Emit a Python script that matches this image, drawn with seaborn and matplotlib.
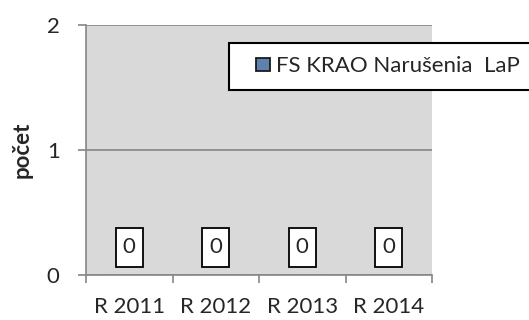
import matplotlib
matplotlib.use("Agg")
import matplotlib.pyplot as plt
import seaborn as sns
import pandas as pd
from matplotlib.ticker import FixedLocator
from matplotlib.path import Path
from matplotlib.patches import Rectangle
from matplotlib.legend_handler import HandlerPatch

categories = ["R 2011", "R 2012", "R 2013", "R 2014"]
values = [0, 0, 0, 0]
series_name = "FS KRAO Narušenia  LaP"
y_ticks = [0, 1, 2]

df = pd.DataFrame({"rok": categories, "pocet": values, "seria": series_name})

sns.set_theme(style="white")
plt.rcParams["font.family"] = ["Lato", "DejaVu Sans"]
FS = 16

fig = plt.figure(figsize=(5.29, 3.2), dpi=100)
ax = fig.add_axes([86 / 529, 1 - 275 / 320, 346 / 529, 250 / 320])
ax.set_facecolor("#D9D9D9")

sns.barplot(data=df, x="rok", y="pocet", hue="seria", palette=["#4F81BD"],
            ax=ax, width=0.6, edgecolor="#385D8A", linewidth=1, legend=True)

ax.set_ylim(0, 2)
ax.set_xlim(-0.5, len(categories) - 0.5)
ax.set_yticks(y_ticks)
ax.yaxis.grid(True, color="#868686", linewidth=1.2)
ax.set_axisbelow(True)

for s in ["top", "right"]:
    ax.spines[s].set_visible(False)
for s in ["left", "bottom"]:
    ax.spines[s].set_color("#868686")
    ax.spines[s].set_linewidth(1.2)

ax.tick_params(axis="y", direction="out", length=6, width=1.2, color="#868686",
               labelsize=FS, pad=13, left=True)
ax.tick_params(axis="x", which="major", length=0, labelsize=FS, pad=16)
ax.xaxis.set_minor_locator(FixedLocator([i - 0.5 for i in range(len(categories) + 1)]))
ax.tick_params(axis="x", which="minor", direction="out", length=6, width=1.2,
               color="#868686", bottom=True)

ax.set_xlabel("")
ax.set_ylabel("počet", fontsize=FS, fontweight="bold", labelpad=10)


def label_box(x0, y0, width, height, mutation_size):
    # rectangle with more vertical than horizontal padding
    px = 0.32 * mutation_size
    py = 0.42 * mutation_size
    x0, y0 = x0 - px, y0 - py
    x1, y1 = x0 + width + 2 * px, y0 + height + 2 * py
    return Path([(x0, y0), (x1, y0), (x1, y1), (x0, y1), (x0, y0)],
                closed=True)


for container in ax.containers:
    labels = ax.bar_label(container, labels=[str(v) for v in values], padding=0,
                          fontsize=FS)
    for t in labels:
        t.set_va("center")
        t.xyann = (0, 20)
        t.set_bbox(dict(boxstyle=label_box, facecolor="white",
                        edgecolor="black", linewidth=1.3))


def square_handle(legend, orig_handle, xdescent, ydescent, width, height, fontsize):
    s = 0.62 * fontsize
    return Rectangle((-xdescent + width - s, -ydescent + (height - s) / 2), s, s)


leg = ax.legend(loc="upper left", bbox_to_anchor=(229 / 529, 1 - 43 / 320),
                bbox_transform=fig.transFigure, frameon=True, fancybox=False,
                fontsize=FS, handlelength=1.25, handleheight=0.7,
                handletextpad=0.25, borderpad=0.6, borderaxespad=0,
                handler_map={Rectangle: HandlerPatch(patch_func=square_handle)})
for h in leg.legend_handles:
    h.set_edgecolor("#1a1a1a")
    h.set_linewidth(1.3)
leg.get_frame().set_edgecolor("black")
leg.get_frame().set_linewidth(1.5)
leg.get_frame().set_facecolor("white")
leg.get_frame().set_alpha(1)

fig.savefig("out.png", dpi=100)
